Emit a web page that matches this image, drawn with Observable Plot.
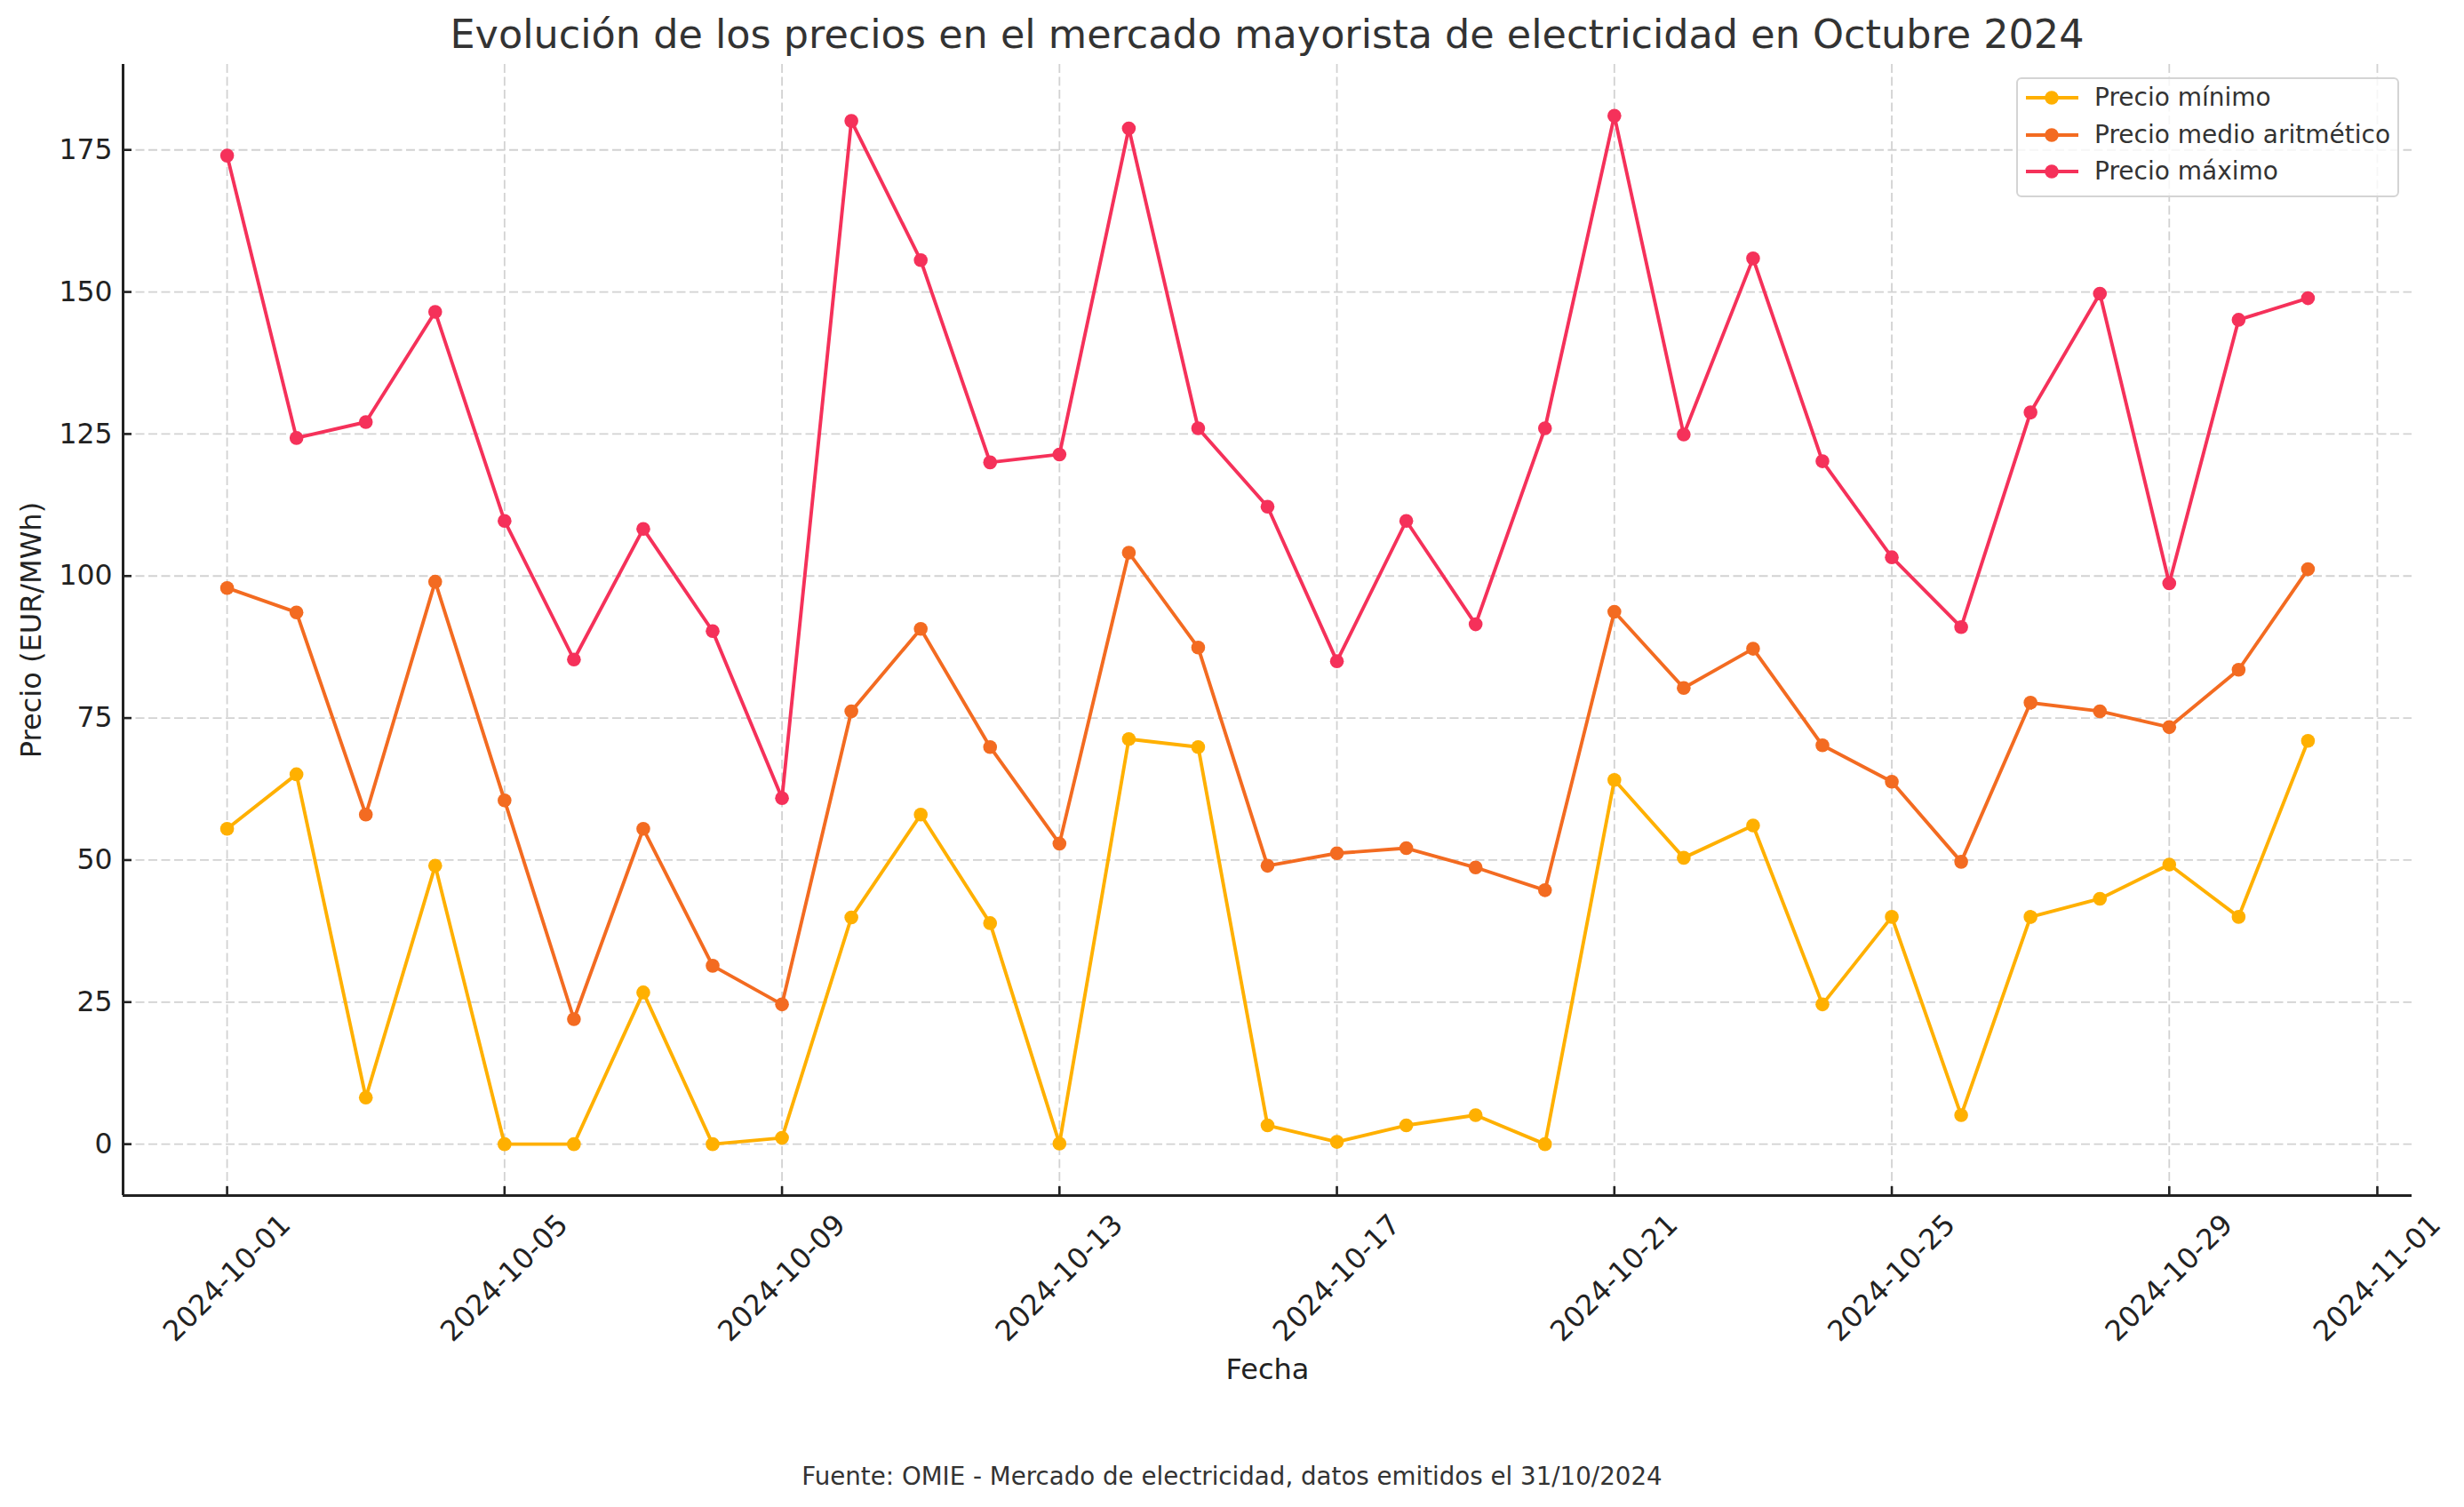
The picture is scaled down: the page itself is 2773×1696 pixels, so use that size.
<!DOCTYPE html>
<html>
<head>
<meta charset="utf-8">
<script src="https://cdn.jsdelivr.net/npm/d3@7"></script>
<script src="https://cdn.jsdelivr.net/npm/@observablehq/plot@0.6"></script>
<style>
  html, body { margin: 0; padding: 0; background: #fff; }
  #wrap { position: relative; width: 2773px; height: 1696px; font-family: "DejaVu Sans", sans-serif; }
  #title { position: absolute; left: 138px; width: 2576px; top: 17px; text-align: center; font-size: 44.5px; line-height: 44px; color: #333; white-space: nowrap; }
  #caption { position: absolute; left: 0; width: 2773px; top: 1648px; text-align: center; font-size: 27.7px; line-height: 28px; color: #333; white-space: nowrap; }
  #legend { position: absolute; left: 2269px; top: 87px; width: 427px; height: 131px; border: 2px solid #d4d4d4; border-radius: 6px; background: rgba(255,255,255,0.8); }
  .row { position: absolute; left: 0; height: 40px; }
  .row svg { position: absolute; left: 7px; top: 0; }
  .row span { position: absolute; left: 86px; font-size: 28px; line-height: 40px; color: #333; white-space: nowrap; top: 0; }
  #chart { position: absolute; left: 0; top: 0; }
</style>
</head>
<body>
<div id="wrap">
  <div id="chart"></div>
  <div id="title"></div>
  <div id="legend"></div>
  <div id="caption"></div>
</div>
<script>
const titulo = "Evolución de los precios en el mercado mayorista de electricidad en Octubre 2024";
const fuente = "Fuente: OMIE - Mercado de electricidad, datos emitidos el 31/10/2024";
const etiquetaX = "Fecha";
const etiquetaY = "Precio (EUR/MWh)";

const fechas = [
  "2024-10-01","2024-10-02","2024-10-03","2024-10-04","2024-10-05","2024-10-06","2024-10-07","2024-10-08",
  "2024-10-09","2024-10-10","2024-10-11","2024-10-12","2024-10-13","2024-10-14","2024-10-15","2024-10-16",
  "2024-10-17","2024-10-18","2024-10-19","2024-10-20","2024-10-21","2024-10-22","2024-10-23","2024-10-24",
  "2024-10-25","2024-10-26","2024-10-27","2024-10-28","2024-10-29","2024-10-30","2024-10-31"
];
const precioMinimo = [55.5, 65.1, 8.2, 49.0, 0.0, 0.0, 26.7, 0.0, 1.1, 39.9, 58.0, 38.9, 0.1, 71.3, 69.9, 3.3,
  0.4, 3.3, 5.1, 0.0, 64.1, 50.4, 56.1, 24.6, 40.0, 5.1, 40.0, 43.2, 49.2, 40.0, 71.0];
const precioMedio = [97.9, 93.6, 58.0, 99.0, 60.5, 22.0, 55.5, 31.4, 24.6, 76.2, 90.7, 69.9, 52.9, 104.1, 87.4, 49.0,
  51.2, 52.1, 48.7, 44.7, 93.7, 80.3, 87.2, 70.2, 63.8, 49.7, 77.7, 76.2, 73.4, 83.5, 101.2];
const precioMaximo = [174.0, 124.3, 127.1, 146.5, 109.7, 85.3, 108.3, 90.3, 60.9, 180.1, 155.6, 120.0, 121.4, 178.8, 126.0, 112.2,
  85.0, 109.7, 91.5, 126.0, 181.0, 124.9, 155.9, 120.2, 103.3, 91.0, 128.8, 149.7, 98.7, 145.1, 148.9];

const series = ["Precio mínimo", "Precio medio aritmético", "Precio máximo"];
const colores = ["#FFB000", "#F36B21", "#F5315A"];
const valores = [precioMinimo, precioMedio, precioMaximo];

const ticksX = ["2024-10-01","2024-10-05","2024-10-09","2024-10-13","2024-10-17","2024-10-21","2024-10-25","2024-10-29","2024-11-01"];
const ticksY = [0, 25, 50, 75, 100, 125, 150, 175];

const parse = s => new Date(s + "T00:00:00Z");
const xDominio = [new Date("2024-09-29T12:00:00Z"), new Date("2024-11-01T12:00:00Z")];
const yDominio = [-9.05, 190.05];

const tabla = [];
series.forEach((s, k) => fechas.forEach((f, i) => tabla.push({fecha: parse(f), serie: s, valor: valores[k][i]})));

const W = 2773, H = 1696, mL = 138, mR = 59, mT = 72, mB = 351;
const pw = W - mL - mR, ph = H - mT - mB;
const grid = {stroke: "#d2d2d2", strokeWidth: 1.8, strokeDasharray: "10,4.5"};
const dark = "#222";

const marcasSeries = [];
series.forEach((s, k) => {
  const d = tabla.filter(r => r.serie === s);
  marcasSeries.push(Plot.line(d, {x: "fecha", y: "valor", stroke: colores[k], strokeWidth: 3.9}));
  marcasSeries.push(Plot.dot(d, {x: "fecha", y: "valor", fill: colores[k], r: 7.8, stroke: "none"}));
});

const chart = Plot.plot({
  width: W, height: H,
  marginLeft: mL, marginRight: mR, marginTop: mT, marginBottom: mB,
  x: {type: "utc", domain: xDominio, axis: null},
  y: {domain: yDominio, axis: null},
  style: {fontFamily: "DejaVu Sans", fontSize: "31px", color: dark, background: "#fff"},
  marks: [
    Plot.ruleX(ticksX.map(parse), {x: d => d, ...grid}),
    Plot.ruleY(ticksY, {y: d => d, ...grid}),
    ...marcasSeries,
    Plot.ruleX(ticksX.map(parse), {x: d => d, insetTop: ph - 10, stroke: dark, strokeWidth: 2.6}),
    Plot.ruleY(ticksY, {y: d => d, insetRight: pw - 10, stroke: dark, strokeWidth: 2.6}),
    Plot.ruleX([xDominio[0]], {x: d => d, stroke: dark, strokeWidth: 3}),
    Plot.ruleY([yDominio[0]], {y: d => d, stroke: dark, strokeWidth: 3}),
    Plot.text(ticksX, {x: d => parse(d), text: d => d, frameAnchor: "bottom", dy: 93, rotate: -45,
      textAnchor: "middle", lineAnchor: "middle", fontSize: 32, fill: dark}),
    Plot.text(ticksY, {y: d => d, text: d => String(d), frameAnchor: "left", dx: -12,
      textAnchor: "end", lineAnchor: "middle", fontSize: 31.5, fill: dark}),
    Plot.text([etiquetaX], {text: d => d, frameAnchor: "bottom", dy: 196, textAnchor: "middle", lineAnchor: "middle", fontSize: 32, fill: dark}),
    Plot.text([etiquetaY], {text: d => d, frameAnchor: "left", dx: -103, rotate: -90, textAnchor: "middle", lineAnchor: "middle", fontSize: 32, fill: dark})
  ]
});
document.getElementById("chart").appendChild(chart);
document.getElementById("title").textContent = titulo;
document.getElementById("caption").textContent = fuente;

const leg = document.getElementById("legend");
const rowTops = [1, 43, 84];
series.forEach((s, k) => {
  const row = document.createElement("div");
  row.className = "row";
  row.style.top = rowTops[k] + "px";
  row.innerHTML = `<svg width="64" height="40"><line x1="2" x2="61" y1="20" y2="20" stroke="${colores[k]}" stroke-width="3.9"/><circle cx="31" cy="20" r="7.8" fill="${colores[k]}"/></svg><span></span>`;
  row.querySelector("span").textContent = s;
  leg.appendChild(row);
});
</script>
</body>
</html>
